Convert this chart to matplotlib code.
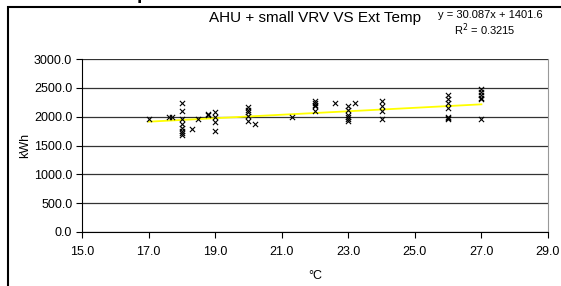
import matplotlib
matplotlib.use("Agg")
import matplotlib.pyplot as plt
from matplotlib.patches import Rectangle

plt.rcParams['font.family'] = ['Liberation Sans', 'DejaVu Sans']

# outside temperature (deg C) and daily energy (kWh)
temp = [17.0, 17.6, 17.7,
        18.0, 18.0, 18.0, 18.0, 18.0, 18.0, 18.0, 18.0,
        18.3, 18.5, 18.8, 18.8,
        19.0, 19.0, 19.0, 19.0,
        20.0, 20.0, 20.0, 20.0, 20.0, 20.2, 21.3,
        22.0, 22.0, 22.0, 22.0, 22.0, 22.6,
        23.0, 23.0, 23.0, 23.0, 23.0, 23.0, 23.2,
        24.0, 24.0, 24.0, 24.0,
        26.0, 26.0, 26.0, 26.0, 26.0, 26.0, 26.0,
        27.0, 27.0, 27.0, 27.0, 27.0, 27.0]
kwh = [1960, 1990, 2000,
       2230, 2100, 1960, 1870, 1800, 1750, 1720, 1690,
       1780, 1960, 2030, 2050,
       2080, 2000, 1900, 1760,
       2170, 2120, 2080, 2020, 1920, 1880, 1990,
       2270, 2230, 2200, 2180, 2100, 2230,
       2180, 2120, 2030, 1990, 1960, 1920, 2240,
       2270, 2190, 2100, 1960,
       2380, 2300, 2230, 2150, 2000, 1980, 1960,
       2480, 2420, 2380, 2320, 2300, 1960]

slope = 30.087
intercept = 1401.6
r2 = 0.3215
trend_x = [min(temp), max(temp)]
trend_y = [slope * t + intercept for t in trend_x]

xticks = [15, 17, 19, 21, 23, 25, 27, 29]
yticks = [0, 500, 1000, 1500, 2000, 2500, 3000]

fig = plt.figure(figsize=(5.61, 2.86), dpi=100)

# outer chart frame (cut at right and bottom)
fig.patches.append(Rectangle((8 / 561, -0.1), 1.2, 1 - 7 / 286 + 0.1,
                             transform=fig.transFigure, fill=False,
                             edgecolor='black', linewidth=1.5))
# heading of the page above, cut off
fig.text(143 / 561, 1 + 1 / 286, 'p', fontsize=14, fontweight='bold',
         ha='center', va='baseline')

ax = fig.add_axes([82 / 561, 1 - 232 / 286, (548 - 82) / 561, (232 - 59) / 286])

ax.plot(trend_x, trend_y, color='#ffff00', linewidth=1.3, zorder=2)
ax.scatter(temp, kwh, marker='x', color='black', s=14, linewidths=0.8, zorder=3)

ax.set_xlim(15, 29)
ax.set_ylim(0, 3000)
ax.set_xticks(xticks)
ax.set_yticks(yticks)
ax.set_xticklabels([f"{t:.1f}" for t in xticks])
ax.set_yticklabels([f"{t:.1f}" for t in yticks])
ax.tick_params(direction='out', length=4, width=0.8, labelsize=9, pad=3)
ax.tick_params(axis='x', pad=6)
ax.yaxis.grid(True, color='#333333', linewidth=0.9)
ax.set_axisbelow(True)

ax.spines['top'].set_visible(False)
ax.spines['right'].set_color('#999999')
ax.spines['left'].set_color('black')
ax.spines['bottom'].set_color('black')

ax.set_xlabel('°C', fontsize=9, labelpad=9)
ax.set_ylabel('kWh', fontsize=9, labelpad=2)

fig.text(315 / 561, 1 - 18 / 286, 'AHU + small VRV VS Ext Temp', fontsize=11,
         ha='center', va='center')
fig.text(490 / 561, 1 - 15 / 286, f'y = {slope}x + {intercept}', fontsize=8,
         ha='center', va='center')
fig.text(516 / 561, 1 - 30 / 286, f'R$^2$ = {r2}', fontsize=8,
         ha='right', va='center')

fig.savefig('out.png', dpi=100)
